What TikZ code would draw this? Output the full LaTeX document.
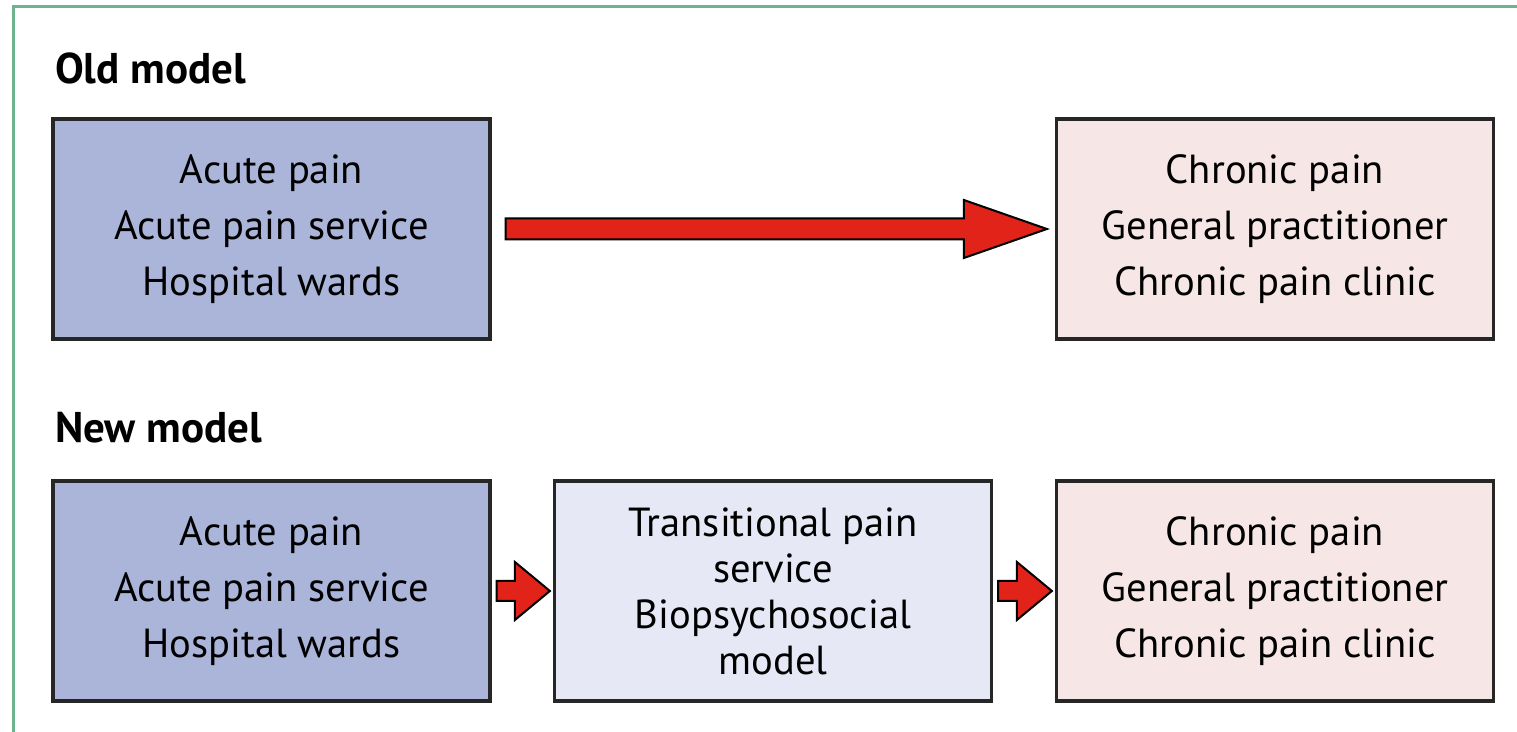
\documentclass[tikz,border=0pt]{standalone}
\usepackage{fontspec}
\setmainfont{PT Sans}
\usetikzlibrary{calc}
\definecolor{framegreen}{HTML}{6DB48E}
\definecolor{acuteblue}{HTML}{ABB5DA}
\definecolor{transblue}{HTML}{E6E8F5}
\definecolor{chronicpink}{HTML}{F6E6E6}
\definecolor{arrowred}{HTML}{E2231A}
\tikzset{
	modelbox/.style={draw=black!85,line width=1.6pt,minimum width=218.5pt,minimum height=110pt,align=center,font=\fontsize{20.3}{28}\selectfont},
	acutebox/.style={modelbox,fill=acuteblue},
	transbox/.style={modelbox,fill=transblue,font=\fontsize{20.3}{23}\selectfont},
	chronicbox/.style={modelbox,fill=chronicpink},
	fatarrow/.style={draw=black,line width=1pt,fill=arrowred,line join=miter},
	title/.style={anchor=west,font=\fontsize{21.5}{24}\selectfont\bfseries}
}
\begin{document}
\begin{tikzpicture}[x=0.5pt,y=-0.5pt]
	\useasboundingbox (0,0) rectangle (1517,732);
	\draw[framegreen,line width=1.5pt] (1517,7) -- (13,7) -- (13,732);
	% old model
	\node[title] (oldtitle) at (48,68) {Old model};
	\node[acutebox] (oldacute) at (271.5,229) {Acute pain\\Acute pain service\\Hospital wards};
	\node[chronicbox] (oldchronic) at (1275,229) {Chronic pain\\General practitioner\\Chronic pain clinic};
	\draw[fatarrow] ($(oldacute.east)+(14,-10.5)$) -- ($(oldchronic.west)+(-91,-10.5)$) -- ($(oldchronic.west)+(-91,-29)$)
		-- ($(oldchronic.west)+(-8,0)$) -- ($(oldchronic.west)+(-91,29)$) -- ($(oldchronic.west)+(-91,10.5)$)
		-- ($(oldacute.east)+(14,10.5)$) -- cycle;
	% new model
	\node[title] (newtitle) at (48,428) {New model};
	\node[acutebox] (newacute) at (271.5,591) {Acute pain\\Acute pain service\\Hospital wards};
	\node[transbox] (trans) at (773,591) {Transitional pain\\service\\Biopsychosocial\\model};
	\node[chronicbox] (newchronic) at (1275,591) {Chronic pain\\General practitioner\\Chronic pain clinic};
	\draw[fatarrow] ($(newacute.east)+(5,-10)$) -- ($(trans.west)+(-38,-10)$) -- ($(trans.west)+(-38,-29)$)
		-- ($(trans.west)+(-3,0)$) -- ($(trans.west)+(-38,29)$) -- ($(trans.west)+(-38,10)$)
		-- ($(newacute.east)+(5,10)$) -- cycle;
	\draw[fatarrow] ($(trans.east)+(5,-10)$) -- ($(newchronic.west)+(-38,-10)$) -- ($(newchronic.west)+(-38,-29)$)
		-- ($(newchronic.west)+(-3,0)$) -- ($(newchronic.west)+(-38,29)$) -- ($(newchronic.west)+(-38,10)$)
		-- ($(trans.east)+(5,10)$) -- cycle;
\end{tikzpicture}
\end{document}
